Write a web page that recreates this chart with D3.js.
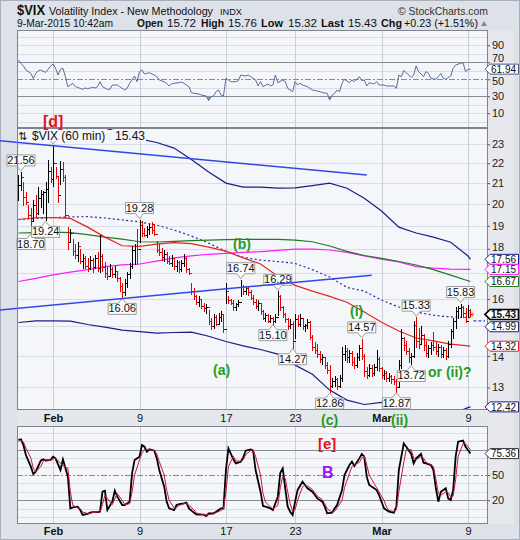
<!DOCTYPE html>
<html><head><meta charset="utf-8">
<script src="https://cdn.jsdelivr.net/npm/d3@7"></script>
<style>
html,body{margin:0;padding:0;background:#dde1e8;}
svg{display:block;font-family:"Liberation Sans",Arial,sans-serif;}
</style></head><body>
<svg id="c" width="520" height="540"></svg>
<script>
// ---------- DATA ----------
const barHigh=[21.40,21.56,21.05,20.55,19.95,19.80,20.18,20.40,20.80,20.66,20.60,21.05,22.17,21.80,22.97,21.80,21.30,22.10,22.05,21.40,18.95,18.85,18.40,18.20,18.30,18.00,17.80,17.70,17.60,17.70,17.60,17.75,17.85,18.60,17.80,17.45,17.30,17.35,17.25,17.30,17.10,16.85,16.60,16.75,17.05,17.40,18.10,18.20,18.85,19.28,19.20,18.90,19.00,19.10,19.15,19.10,18.35,18.20,18.05,17.95,17.85,17.70,17.75,17.60,17.55,17.50,17.55,17.80,17.65,17.20,16.60,16.40,16.15,16.10,16.00,15.85,15.80,15.60,15.30,15.45,15.40,15.50,15.55,15.40,16.60,16.10,16.00,15.95,15.85,15.95,16.74,16.55,16.50,16.45,16.35,16.15,16.00,15.95,15.80,15.60,15.50,15.45,15.40,15.35,15.45,16.29,16.15,15.75,15.50,15.30,15.25,15.20,15.45,15.40,15.45,15.30,15.10,15.25,15.20,14.70,14.45,14.40,14.15,14.05,13.95,13.80,13.70,13.30,13.35,13.30,13.40,14.30,14.35,14.25,14.20,14.15,13.95,14.10,14.35,14.57,14.05,13.65,13.75,13.70,13.75,14.20,13.95,13.65,13.55,13.50,13.45,13.40,13.35,13.25,13.85,14.90,14.65,14.50,14.25,14.10,15.20,15.33,14.95,15.00,14.75,14.50,14.35,14.45,14.80,14.45,14.40,14.35,14.30,14.25,14.50,14.90,15.30,15.70,15.75,15.83,15.75,15.65,15.76,15.62];
const barLow=[20.20,20.66,19.95,20.00,19.40,18.70,19.26,19.40,19.55,19.85,19.60,19.24,20.10,21.05,20.85,21.25,20.10,20.95,21.10,19.40,18.00,18.30,17.75,17.60,17.50,17.40,17.20,17.20,17.10,17.15,17.05,17.20,17.10,17.05,17.10,16.85,16.75,16.90,16.85,16.85,16.70,16.30,16.06,16.15,16.45,16.80,17.20,17.35,17.35,18.30,18.55,18.55,18.50,18.65,18.70,18.60,17.85,17.75,17.55,17.50,17.40,17.35,17.30,17.15,17.10,17.05,17.10,17.30,17.05,16.95,16.20,16.00,15.80,15.75,15.65,15.55,15.50,15.10,14.90,14.95,15.05,15.10,15.20,14.80,15.85,15.85,15.80,15.60,15.60,15.75,16.10,16.20,16.20,16.15,16.00,15.80,15.65,15.60,15.45,15.25,15.20,15.15,15.15,15.10,15.15,15.40,15.60,15.35,15.15,14.90,14.95,14.27,14.60,15.00,15.00,14.90,14.85,14.95,14.55,14.20,14.10,13.95,13.80,13.75,13.60,13.45,12.86,13.00,13.05,12.95,13.00,13.20,13.85,13.80,13.80,13.70,13.60,13.65,13.85,13.90,13.35,13.30,13.35,13.35,13.40,13.55,13.50,13.30,13.25,13.20,13.20,13.15,13.10,12.87,13.05,13.60,14.20,14.05,13.80,13.72,13.95,14.30,14.25,14.40,14.20,14.00,13.95,14.05,14.20,14.05,14.00,13.95,13.95,13.90,13.95,14.30,14.60,14.95,15.30,15.35,15.35,15.15,15.32,15.38];
const barClose=[20.90,21.30,20.35,20.10,19.50,19.20,19.95,19.60,20.30,20.45,20.55,20.70,21.60,21.20,22.00,21.35,20.40,21.70,21.30,19.50,18.30,18.70,17.90,17.75,18.10,17.50,17.60,17.30,17.20,17.55,17.25,17.60,17.20,17.70,17.25,17.00,16.90,17.15,16.95,17.10,16.80,16.50,16.25,16.60,16.95,17.30,17.95,18.10,18.00,19.05,18.70,18.60,18.85,18.95,18.80,18.65,17.95,17.85,17.65,17.80,17.50,17.40,17.60,17.30,17.45,17.15,17.40,17.60,17.15,17.00,16.30,16.10,15.90,16.00,15.75,15.65,15.70,15.20,15.00,15.35,15.10,15.35,15.45,14.90,16.30,15.95,15.85,15.70,15.80,15.90,16.45,16.30,16.40,16.25,16.05,15.90,15.75,15.85,15.55,15.30,15.40,15.20,15.30,15.20,15.35,16.10,15.70,15.45,15.25,15.00,15.10,14.50,15.25,15.10,15.30,15.00,15.05,15.15,14.65,14.30,14.20,14.05,13.90,13.95,13.70,13.55,13.05,13.20,13.25,13.05,13.30,14.05,14.15,13.95,14.10,13.80,13.70,13.95,14.25,14.00,13.50,13.40,13.60,13.45,13.65,13.90,13.60,13.40,13.45,13.30,13.35,13.25,13.20,13.00,13.70,14.60,14.35,14.15,13.95,14.00,15.05,14.50,14.40,14.70,14.35,14.10,14.25,14.35,14.30,14.15,14.30,14.05,14.20,14.00,14.40,14.85,15.20,15.55,15.65,15.70,15.50,15.20,15.60,15.43];
const prevClose=15.20;

const overlayBars=[0,7,14,21,28,35,42,49,56,63,70,77,84,91,98,105,112,119,126,133,140,147,154,161,168,175,182,183];
const maRed=[19.28,19.36,19.37,19.33,18.94,18.5,18.13,18.1,18.2,18.26,18.22,18.07,17.9,17.62,17.37,16.88,16.52,16.3,16.1,15.88,15.52,15.15,14.84,14.6,14.5,14.39,14.33,14.32];
const maGreen=[18.68,18.7,18.72,18.7,18.61,18.5,18.41,18.3,18.29,18.32,18.35,18.37,18.39,18.4,18.4,18.4,18.37,18.3,18.12,17.89,17.72,17.6,17.47,17.33,17.14,16.92,16.7,16.67];
const maMagenta=[16.67,16.79,16.93,17.04,17.14,17.26,17.33,17.37,17.49,17.62,17.7,17.77,17.81,17.85,17.88,17.93,17.99,17.99,17.95,17.85,17.7,17.57,17.45,17.26,17.2,17.16,17.15,17.15];
const bandUpper=[27.0,26.5,26.0,25.2,24.6,23.9,23.6,23.3,23.1,22.8,22.2,21.55,21.0,20.8,20.8,20.75,20.77,20.88,21.0,20.75,20.27,19.67,18.94,18.68,18.5,18.28,17.7,17.56];
const bandLower=[15.14,15.2,15.2,15.19,15.07,14.98,14.87,14.82,14.77,14.79,14.8,14.66,14.48,14.33,14.21,14.06,13.7,13.41,12.92,12.62,12.49,12.55,12.41,12.27,12.15,12.2,12.4,12.42];
const bandMid=[19.28,19.33,19.37,19.4,19.41,19.35,19.26,19.17,19.03,18.81,18.55,18.24,17.89,17.64,17.53,17.47,17.39,17.14,16.85,16.44,16.3,15.96,15.7,15.52,15.4,15.34,15.32,15.31];

const trendUpper=[[-7.5,23.2],[141,21.40]];
const trendLower=[[-7.5,15.59],[143,16.92]];

// callouts (the first one's label is hidden under the legend in the original)
const calloutVal=[22.97,21.56,18.70,19.24,16.06,19.28,16.74,16.29,15.10,14.27,12.86,14.57,12.87,13.72,15.33,15.83];
const calloutBar=[14,1,5,11,42,49,90,105,103,111,126,139,153,159,161,179];
const calloutSide=['H','H','L','L','L','H','H','H','L','L','L','H','L','L','H','H'];
const calloutShown=[false,true,true,true,true,true,true,true,true,true,true,true,true,true,true,true];

const rsi=[[0,72.7],[1,68.8],[2,65.6],[3,61],[5,57],[6,51],[7,57],[8,60],[9,61],[11,58],[12,61.7],[13,65.6],[14,68],[15,63],[16,55],[17,61.7],[18,63],[19,53],[20,41.3],[22,45.3],[23,41.3],[24,40.5],[26,38.2],[27,39.8],[28,39],[30,40.5],[31,39.8],[32,41.3],[33,47.2],[34,41.3],[36,38.2],[37,38.2],[38,43.3],[40,43.3],[41,41.3],[43,37.4],[44,39.4],[45,45.3],[47,53.9],[48,47.2],[49,59],[50,61],[51,56.2],[52,57],[53,57.8],[55,55],[56,53.1],[57,49.2],[59,47.2],[60,45.3],[61,42.1],[62,44.5],[63,45.3],[65,46],[66,46.8],[67,45.3],[69,41.3],[70,34.3],[71,33.5],[73,32.7],[74,31.5],[76,30.4],[77,24.9],[78,29.6],[79,30.4],[80,35.5],[81,37.4],[82,31.5],[83,30.4],[84,51.1],[85,49.2],[86,47.2],[88,47.2],[89,48.4],[90,55],[92,53.9],[93,55],[94,53.1],[96,49.2],[97,42.1],[98,47.2],[99,41.3],[101,44.5],[102,42.1],[103,43.3],[104,55],[105,46],[107,49.2],[108,47.2],[109,39.4],[111,35.5],[112,47.2],[113,43.3],[114,45.3],[115,43.3],[117,41.3],[118,39.4],[119,37.4],[121,36.2],[122,35.5],[123,34.3],[125,33.5],[126,25.6],[127,31.5],[128,33.5],[129,37.4],[130,35.5],[131,45.3],[132,50],[134,46],[135,49.2],[136,47.2],[138,53.1],[139,48.4],[140,49.2],[141,42.1],[142,46],[144,44.5],[145,47.2],[146,43.3],[148,43.3],[149,42.1],[150,42.1],[152,42.1],[153,39.4],[154,55],[155,53.1],[156,60.2],[157,57.8],[159,52.3],[160,55],[161,65.6],[162,59],[164,53.1],[165,59],[166,57],[167,51.1],[169,50],[170,53.1],[171,57],[172,51.1],[173,50],[175,53.9],[176,62.9],[177,66.8],[179,68.8],[180,69.6],[181,59],[182,61.7],[183,61.94]];

const stochK=[[0,91.5],[1,92.2],[2,85.5],[3,73.7],[5,59.9],[6,51.2],[7,53.9],[9,67],[10,68.5],[11,67],[13,67.8],[14,71.7],[15,69.7],[17,55.9],[18,68.5],[20,48],[21,10.5],[22,11.7],[24,12.5],[25,8.5],[26,2.6],[28,3.8],[29,5.4],[30,6.1],[32,6.1],[33,6.5],[34,30.2],[35,31.4],[36,8.5],[38,18.4],[39,31.4],[40,24.3],[42,14.4],[43,14.4],[45,18.4],[46,52],[47,67.8],[49,71.7],[50,85.5],[51,83.5],[52,77.6],[53,80.4],[55,78.8],[56,69.7],[57,55.9],[59,36.2],[60,18.4],[61,10.5],[63,8.5],[64,14.4],[65,15.6],[67,16.4],[68,17.2],[69,10.5],[71,5.4],[72,3.4],[73,3],[75,3],[76,1.4],[77,4.6],[79,4.6],[80,6.5],[82,10.5],[83,10.5],[84,55.9],[85,81.6],[87,68.5],[88,63.8],[90,65.8],[91,70.9],[92,78.8],[94,80.4],[95,78.8],[96,55.9],[98,30.2],[99,13.3],[100,12.5],[102,10.5],[103,8.5],[105,24.3],[106,52.7],[107,57.9],[108,34.2],[109,12.5],[110,6.5],[111,2.6],[112,18.4],[113,32.2],[115,42.1],[116,38.1],[117,34.2],[119,30.2],[120,26.3],[121,22.3],[123,18.4],[124,12.5],[125,4.6],[127,5.4],[128,10.5],[129,14.4],[131,32.2],[132,50],[134,61.8],[135,65.8],[136,60.6],[138,69.7],[139,74.9],[140,71.7],[141,48],[142,38.1],[144,34.2],[145,32.2],[146,26.3],[148,10.5],[149,8.5],[150,6.5],[152,5.4],[153,12.5],[154,55.9],[156,87.5],[157,83.5],[159,74.9],[160,63.8],[161,69.7],[163,74.9],[164,64.6],[165,63.8],[167,61.8],[168,55.9],[169,34.2],[170,18.4],[171,30.2],[173,34.2],[174,22.3],[175,20.4],[176,32.2],[177,71.7],[178,89.5],[180,90.7],[181,83.5],[183,75.36]];
const stochD=[[0,90],[1,91.5],[2,89],[3,82],[5,70],[6,58],[7,54],[9,60],[10,66],[11,68],[13,67.5],[14,69],[15,70],[17,64],[18,61],[20,58],[21,30],[22,14],[24,11],[25,10],[26,6],[28,4.5],[29,4.5],[30,5.5],[32,6],[33,6.3],[34,15],[35,26],[36,22],[38,15],[39,22],[40,28],[42,20],[43,15],[45,16],[46,30],[47,50],[49,68],[50,76],[51,80],[52,80],[53,80],[55,79],[56,75],[57,66],[59,50],[60,32],[61,20],[63,11],[64,11],[65,14],[67,16],[68,16.5],[69,14],[71,9],[72,5],[73,4],[75,3],[76,2.5],[77,3],[79,4],[80,5.5],[82,8],[83,10],[84,30],[85,60],[87,72],[88,67],[90,66],[91,68],[92,74],[94,79],[95,80],[96,72],[98,50],[99,28],[100,18],[102,12],[103,10],[105,14],[106,35],[107,48],[108,46],[109,30],[110,16],[111,7],[112,9],[113,20],[115,36],[116,38],[117,37],[119,33],[120,29],[121,25],[123,21],[124,16],[125,10],[127,6],[128,7],[129,11],[131,20],[132,35],[134,52],[135,60],[136,62],[138,65],[139,70],[140,73],[141,62],[142,50],[144,40],[145,35],[146,30],[148,20],[149,12],[150,8],[152,6.5],[153,9],[154,30],[156,65],[157,80],[159,80],[160,70],[161,68],[163,72],[164,70],[165,65],[167,62],[168,60],[169,45],[170,28],[171,26],[173,30],[174,29],[175,24],[176,25],[177,45],[178,72],[180,87],[181,87],[183,80]];

const dateTickBars=[14,49,84,112,147,182];
const dateTickLabels=["Feb","9","17","23","Mar","9"];
const mainTicks=[13,14,16,18,19,20,21,22,23];
const rsiTicks=[10,30,50,70,90];
const stochTicks=[20,50];

// ---------- LAYOUT ----------
const L=17,R=488;
const svg=d3.select('#c');
const x=d3.scaleLinear().domain([-0.6,190.1]).range([L,R]);
const yM=d3.scaleLog().domain([12.33,23.9]).range([410,128]);
const yR=d3.scaleLinear().domain([0,100]).range([121.8,36.8]);
const yS=d3.scaleLinear().domain([0,100]).range([517.2,432.8]);
const panels={rsi:[30,128],main:[128,410],sto:[426,524]};
const defs=svg.append('defs');
Object.entries(panels).forEach(([k,[a,b]])=>{
  defs.append('clipPath').attr('id','clip-'+k).append('rect').attr('x',L).attr('y',a).attr('width',R-L).attr('height',b-a);
});

svg.append('rect').attr('width',520).attr('height',540).attr('fill','#dde1e8');
svg.append('rect').attr('x',0.5).attr('y',0.5).attr('width',519).attr('height',539).attr('fill','none').attr('stroke','#a9afba');
svg.append('rect').attr('x',R).attr('y',30).attr('width',26).attr('height',494).attr('fill','#e6e8ed');
svg.append('rect').attr('x',L).attr('y',410).attr('width',R-L).attr('height',16).attr('fill','#e4e7ec');

Object.values(panels).forEach(([a,b])=>{
  svg.append('rect').attr('x',L).attr('y',a).attr('width',R-L).attr('height',b-a).attr('fill','#f4f6fa');
});

const grid='#d9dde5', vgrid='#c9cdd6', strong='#868b95';
function hline(g,y,color,dash,w){g.append('line').attr('x1',L).attr('x2',R).attr('y1',y).attr('y2',y).attr('stroke',color).attr('stroke-width',w||1).attr('stroke-dasharray',dash||null);}
const gGrid=svg.append('g').attr('shape-rendering','crispEdges');
d3.range(13,24).forEach(v=>hline(gGrid,Math.round(yM(v))+0.5,grid));
d3.range(0,101,10).forEach(v=>{ if(v!==30&&v!==50&&v!==70) hline(gGrid,Math.round(yR(v))+0.5,grid); });
d3.range(0,101,10).forEach(v=>{ if(v!==20&&v!==50&&v!==80) hline(gGrid,Math.round(yS(v))+0.5,grid); });
Object.values(panels).forEach(([a,b])=>{
  dateTickBars.forEach(t=>{const xx=Math.round(x(t))+0.5; gGrid.append('line').attr('x1',xx).attr('x2',xx).attr('y1',a).attr('y2',b).attr('stroke',vgrid);});
});
[70,30].forEach(v=>hline(gGrid,Math.round(yR(v))+0.5,strong));
hline(gGrid,Math.round(yR(50))+0.5,strong,'6,2,2,2');
[80,20].forEach(v=>hline(gGrid,Math.round(yS(v))+0.5,strong));
hline(gGrid,Math.round(yS(50))+0.5,strong,'6,2,2,2');

// ---------- RSI ----------
const gR=svg.append('g').attr('clip-path','url(#clip-rsi)');
gR.append('path').datum(rsi).attr('fill','#7f9c9c')
  .attr('d',d3.area().x(d=>x(d[0])).y0(yR(30)).y1(d=>yR(Math.min(d[1],30))));
gR.append('path').datum(rsi).attr('fill','none').attr('stroke','#5a6c9e').attr('stroke-width',1)
  .attr('d',d3.line().x(d=>x(d[0])).y(d=>yR(d[1])));

// ---------- MAIN ----------
const gM=svg.append('g').attr('clip-path','url(#clip-main)');
const ov=(arr)=>arr.map((v,k)=>[overlayBars[k],v]);
const lineM=d3.line().x(d=>x(d[0])).y(d=>yM(d[1]));
function ovLine(arr,color,dash){gM.append('path').datum(ov(arr)).attr('fill','none').attr('stroke',color).attr('stroke-width',1.2).attr('stroke-dasharray',dash||null).attr('d',lineM);}
ovLine(bandUpper,'#1c1c8a');
ovLine(bandLower,'#1c1c8a');
ovLine(bandMid,'#2a2aa0','2,2.5');
ovLine(maMagenta,'#ff19ff');
ovLine(maGreen,'#217a21');
ovLine(maRed,'#e8261e');

const bars=barClose.map((c,i)=>({i,h:barHigh[i],l:barLow[i],c,o:i?barClose[i-1]:c,up:i?c>=barClose[i-1]:true}));
const gB=gM.append('g').attr('shape-rendering','crispEdges');
const bg=gB.selectAll('g').data(bars).join('g').attr('stroke',d=>d.up?'#000':'#e60000');
bg.append('line').attr('x1',d=>Math.round(x(d.i))+0.5).attr('x2',d=>Math.round(x(d.i))+0.5).attr('y1',d=>yM(d.h)).attr('y2',d=>yM(d.l)+1);
bg.append('line').attr('x1',d=>Math.round(x(d.i))-1.5).attr('x2',d=>Math.round(x(d.i))+0.5).attr('y1',d=>Math.round(yM(d.o))+0.5).attr('y2',d=>Math.round(yM(d.o))+0.5);
bg.append('line').attr('x1',d=>Math.round(x(d.i))+0.5).attr('x2',d=>Math.round(x(d.i))+2.5).attr('y1',d=>Math.round(yM(d.c))+0.5).attr('y2',d=>Math.round(yM(d.c))+0.5);
const lastI=barClose.length-1;
gM.insert('rect',':first-child').attr('x',Math.round(x(lastI))-2).attr('y',yM(barClose[lastI])-3).attr('width',6).attr('height',6).attr('fill','#b7e6a3');
svg.append('line').attr('x1',x(lastI)+3).attr('x2',485).attr('y1',yM(prevClose)).attr('y2',yM(prevClose)).attr('stroke','#2244e0').attr('stroke-width',1.2).attr('stroke-dasharray','3,2');

const gC=svg.append('g');
calloutVal.forEach((v,k)=>{
  const cx=x(calloutBar[k]), side=calloutSide[k];
  const txt=v.toFixed(2);
  const w=28,h=11;
  const tip= side==='H' ? yM(v)-1 : yM(v)+1;
  const x0=cx-w/2,x1=cx+w/2;
  let p,ty;
  if(side==='H'){const yb=tip-5,yt=yb-h;p=`M${x0},${yt}H${x1}V${yb}H${cx+4}L${cx},${tip}L${cx-4},${yb}H${x0}Z`;ty=yt+9;}
  else {const yt=tip+5,yb=yt+h;p=`M${x0},${yt}H${cx-4}L${cx},${tip}L${cx+4},${yt}H${x1}V${yb}H${x0}Z`;ty=yt+9;}
  gC.append('path').attr('d',p).attr('fill','#fbfbfb').attr('stroke','#9c9c9c').attr('stroke-width',1);
  if(calloutShown[k]) gC.append('text').attr('x',cx).attr('y',ty).attr('text-anchor','middle').attr('font-size',11).attr('fill','#111').text(txt);
});

svg.append('rect').attr('x',18).attr('y',130).attr('width',128).attr('height',11).attr('fill','#f4f6fa');
const lg=svg.append('text').attr('y',140).attr('font-size',12).attr('fill','#111');
lg.append('tspan').attr('x',18).attr('font-family','DejaVu Sans').attr('font-size',11).text('⇅');
lg.append('tspan').attr('x',32).text('$VIX (60 min)');
lg.append('tspan').attr('x',115).text('15.43');

const lineT=d3.line().x(d=>x(d[0])).y(d=>yM(d[1]));
[trendUpper,trendLower].forEach(t=>svg.append('path').datum(t).attr('d',lineT).attr('stroke','#3048e6').attr('stroke-width',1.5).attr('fill','none'));

// ---------- STOCH ----------
const gS=svg.append('g').attr('clip-path','url(#clip-sto)');
const lineS=d3.line().x(d=>x(d[0])).y(d=>yS(d[1]));
gS.append('path').datum(stochK).attr('d',lineS).attr('fill','none').attr('stroke','#000').attr('stroke-width',1.8);
gS.append('path').datum(stochD).attr('d',lineS).attr('fill','none').attr('stroke','#c8143c').attr('stroke-width',1);

Object.values(panels).forEach(([a,b])=>{
  svg.append('rect').attr('x',L+0.5).attr('y',a+0.5).attr('width',R-L-1).attr('height',b-a-1).attr('fill','none').attr('stroke','#7f8590').attr('shape-rendering','crispEdges');
});

// ---------- AXES ----------
function styleAxis(g){g.select('.domain').remove();g.selectAll('text').attr('font-size',11).attr('fill','#222').attr('font-family','"Liberation Sans",Arial,sans-serif');g.selectAll('line').attr('stroke','#555');}
const mAx=svg.append('g').attr('transform',`translate(${R},0)`).call(d3.axisRight(yM).tickValues(mainTicks).tickFormat(d3.format('d')).tickSize(2).tickPadding(2)).call(styleAxis);
mAx.selectAll('text').attr('dy',d=>d===14?'0.45em':(d===18?'0.15em':'0.32em'));
const rAx=svg.append('g').attr('transform',`translate(${R},0)`).call(d3.axisRight(yR).tickValues(rsiTicks).tickSize(2).tickPadding(2)).call(styleAxis);
rAx.selectAll('text').attr('dy',d=>d===70?'-0.05em':(d===50?'0.45em':'0.32em'));
svg.append('g').attr('transform',`translate(${R},0)`).call(d3.axisRight(yS).tickValues(stochTicks).tickSize(2).tickPadding(2)).call(styleAxis);
function dateAxis(y0){
  const g=svg.append('g').attr('transform',`translate(0,${y0})`).call(d3.axisBottom(x).tickValues(dateTickBars).tickFormat((d,i)=>dateTickLabels[i]).tickSize(0).tickPadding(4));
  styleAxis(g);
  g.selectAll('text').attr('fill','#111').attr('font-weight',(d,i)=>(dateTickLabels[i]==='Feb'||dateTickLabels[i]==='Mar')?'bold':'normal');
}
dateAxis(410);dateAxis(523);

function valueBox(yv,text,color,bold){
  const p=`M485,${yv}L490,${yv-5}L518.5,${yv-5}L518.5,${yv+5}L490,${yv+5}Z`;
  svg.append('path').attr('d',p).attr('fill','#fff').attr('stroke',color).attr('stroke-width',bold?1.6:1);
  svg.append('text').attr('x',491).attr('y',yv+3.6).attr('font-size',10).attr('font-weight',bold?'bold':'normal').attr('fill','#111').text(text);
}
valueBox(yM(17.56),'17.56','#1c1c8a');
valueBox(yM(17.15),'17.15','#ff19ff');
valueBox(yM(16.67),'16.67','#217a21');
valueBox(yM(15.43),'15.43','#000',true);
valueBox(yM(14.99),'14.99','#1c1c8a');
valueBox(yM(14.32),'14.32','#e8261e');
valueBox(yM(12.42),'12.42','#1c1c8a');
valueBox(yR(61.94),'61.94','#4a5a8a');
valueBox(yS(75.36),'75.36','#333');

// ---------- ANNOTATIONS ----------
function ann(t,xx,yy,color,size){svg.append('text').attr('x',xx).attr('y',yy).attr('fill',color).attr('font-size',size).attr('font-weight','bold').text(t);}
const grn='#1f9e1f';
ann('[d]',43,126.5,'#e0141e',16);
ann('(b)',233,249,grn,14);
ann('(a)',213,375,grn,14);
ann('(i)',350,316,grn,14);
ann('(c)',321,425,grn,14);
ann('(ii)',391,425,grn,14);
ann('or (ii)?',428,377,grn,14);
ann('[e]',318,449,'#e0141e',15);
ann('B',322,478,'#a010f0',16);

// ---------- HEADER ----------
function ht(t,xx,yy,size,weight,tl,color){const e=svg.append('text').attr('x',xx).attr('y',yy).attr('font-size',size).attr('font-weight',weight||'normal').attr('fill',color||'#111').text(t);if(tl)e.attr('textLength',tl).attr('lengthAdjust','spacingAndGlyphs');}
ht('$VIX',17,15,14,'bold',28);
ht('Volatility Index - New Methodology',49,15,11,'normal',164);
ht('INDX',220,15,9.5,'normal',22);
ht('© StockCharts.com',398,15,11,'normal',90,'#333');
ht('9-Mar-2015 10:42am',17,27,11,'normal',96);
ht('Open',137,27,11,'bold',26);ht('15.72',167,27,11,'normal',29);
ht('High',201,27,11,'bold',23);ht('15.76',228,27,11,'normal',29);
ht('Low',261,27,11,'bold',22);ht('15.32',288,27,11,'normal',29);
ht('Last',321,27,11,'bold',23);ht('15.43',348,27,11,'normal',29);
ht('Chg',381,27,11,'bold',21);ht('+0.23 (+1.51%)',404,27,11,'normal',74);
svg.append('path').attr('d','M481,26L487,26L484,21Z').attr('fill','#888');
</script></body></html>
